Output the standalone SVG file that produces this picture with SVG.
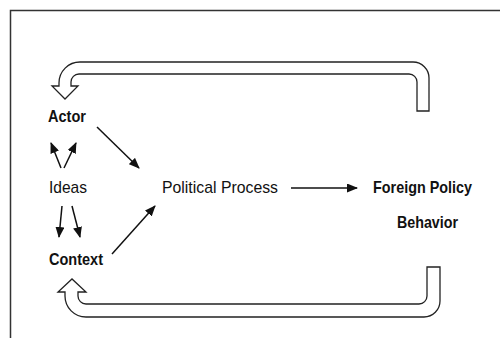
<svg xmlns="http://www.w3.org/2000/svg" width="500" height="338" viewBox="0 0 500 338">
  <style>
    .frame { fill: none; stroke: #333; stroke-width: 1.5; }
    .loop { fill: #fff; stroke: #222; stroke-width: 1.3; stroke-linejoin: miter; }
    .edge { fill: none; stroke: #111; stroke-width: 1.5; }
    .lbl { font-family: "Liberation Sans", Arial, sans-serif; font-size: 17px; fill: #111; }
    .bold { font-weight: bold; }
  </style>
  <defs>
    <marker id="arrow" markerUnits="userSpaceOnUse" markerWidth="11" markerHeight="9" refX="10" refY="4.5" orient="auto">
      <path d="M0,0 L11,4.5 L0,9 Z" fill="#111"/>
    </marker>
  </defs>

  <rect width="500" height="338" fill="#fff"/>
  <path class="frame" d="M10.5,338 V10.5 H500"/>

  <!-- feedback loops -->
  <g id="feedback-top">
    <path class="loop" d="M429,111 V78 A16,16 0 0 0 413,62 H80 A21,21 0 0 0 59,83 V86 H52 L65,99 L78,86 H71 V82 A8,8 0 0 1 79,74 H409 A8,8 0 0 1 417,82 V111 Z"/>
  </g>
  <g id="feedback-bottom">
    <path class="loop" d="M427,267 H440 V301 A16,16 0 0 1 424,317 H86 A21,21 0 0 1 65,296 V292 H58 L72,279 L86,292 H78 V296 A8,8 0 0 0 86,304 H419 A8,8 0 0 0 427,296 Z"/>
  </g>

  <g id="node-actor">
    <text class="lbl bold" x="48" y="122" textLength="38" lengthAdjust="spacingAndGlyphs">Actor</text>
  </g>
  <g id="node-ideas">
    <text class="lbl" x="49" y="193" textLength="38" lengthAdjust="spacingAndGlyphs">Ideas</text>
  </g>
  <g id="node-context">
    <text class="lbl bold" x="49" y="265" textLength="54" lengthAdjust="spacingAndGlyphs">Context</text>
  </g>
  <g id="node-process">
    <text class="lbl" x="162" y="193" textLength="116" lengthAdjust="spacingAndGlyphs">Political Process</text>
  </g>
  <g id="node-behavior">
    <text class="lbl bold" x="373" y="193" textLength="99" lengthAdjust="spacingAndGlyphs">Foreign Policy</text>
    <text class="lbl bold" x="397" y="228" textLength="61" lengthAdjust="spacingAndGlyphs">Behavior</text>
  </g>

  <g id="connectors">
    <line class="edge" x1="97" y1="127" x2="139" y2="168" marker-end="url(#arrow)"/>
    <line class="edge" x1="112" y1="254" x2="155" y2="206" marker-end="url(#arrow)"/>
    <line class="edge" x1="61" y1="168" x2="51" y2="143" marker-end="url(#arrow)"/>
    <line class="edge" x1="64" y1="168" x2="76" y2="143" marker-end="url(#arrow)"/>
    <line class="edge" x1="62" y1="206" x2="59" y2="237" marker-end="url(#arrow)"/>
    <line class="edge" x1="72" y1="206" x2="80" y2="237" marker-end="url(#arrow)"/>
    <line class="edge" x1="291" y1="188" x2="357" y2="188" marker-end="url(#arrow)"/>
  </g>
</svg>
